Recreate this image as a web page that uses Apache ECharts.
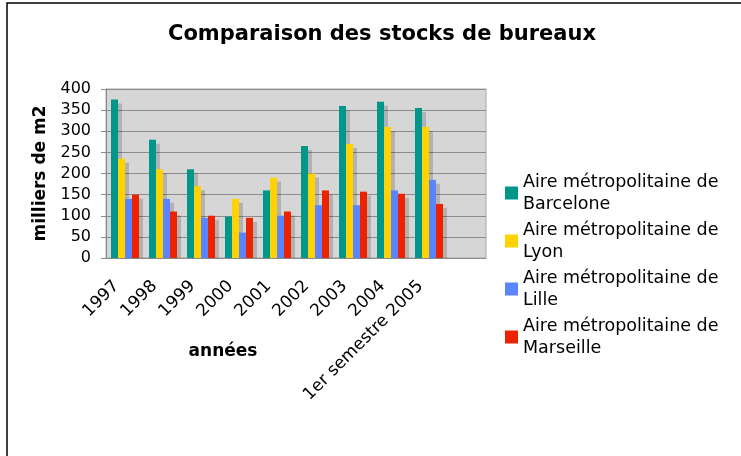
<!DOCTYPE html>
<html>
<head>
<meta charset="utf-8">
<script src="https://cdn.jsdelivr.net/npm/echarts@6/dist/echarts.min.js"></script>
<style>
  html, body { margin: 0; padding: 0; background: #fff; }
  #chart { width: 741px; height: 456px; }
</style>
</head>
<body>
<div id="chart"></div>
<script>
  // années (le dernier créneau reste vide)
  const categories = ['1997', '1998', '1999', '2000', '2001', '2002', '2003', '2004', '1er semestre 2005', ''];
  const barcelone = [375, 280, 210, 98, 160, 265, 360, 370, 355];
  const lyon      = [235, 210, 170, 140, 190, 200, 270, 310, 310];
  const lille     = [140, 140, 95, 60, 100, 125, 125, 160, 185];
  const marseille = [150, 110, 100, 95, 110, 160, 157, 152, 128];
  const yTicks = [0, 50, 100, 150, 200, 250, 300, 350, 400];

  const names = [
    'Aire métropolitaine de\nBarcelone',
    'Aire métropolitaine de\nLyon',
    'Aire métropolitaine de\nLille',
    'Aire métropolitaine de\nMarseille'
  ];
  const colors = ['#00968a', '#ffd200', '#5a85ff', '#ed2300'];
  const font = 'DejaVu Sans';

  let chart = echarts.init(document.getElementById('chart'));

  function bar(name, data) {
    return {
      name: name,
      type: 'bar',
      barWidth: 7,
      barGap: '0%',
      data: data,
      itemStyle: {
        shadowColor: 'rgba(0,0,0,0.17)',
        shadowOffsetX: 4,
        shadowOffsetY: 4,
        shadowBlur: 0
      }
    };
  }

  const option = {
    animation: false,
    color: colors,
    textStyle: { fontFamily: font },
    title: {
      text: 'Comparaison des stocks de bureaux',
      left: 163,
      top: 19,
      textStyle: { fontFamily: font, fontWeight: 'bold', fontSize: 21, color: '#000' }
    },
    legend: {
      orient: 'vertical',
      left: 500,
      top: 155,
      itemWidth: 13,
      itemHeight: 13,
      itemGap: -18,
      icon: 'rect',
      data: names,
      textStyle: {
        fontFamily: font,
        fontSize: 17.5,
        color: '#000',
        lineHeight: 22,
        padding: [22, 0, 0, 0]
      }
    },
    grid: {
      left: 106,
      top: 89,
      right: 255,
      bottom: 198,
      show: true,
      backgroundColor: '#d6d6d6',
      borderColor: '#a8a8a8',
      borderWidth: 1
    },
    xAxis: {
      type: 'category',
      data: categories,
      zlevel: 1,
      name: 'années',
      nameLocation: 'middle',
      nameGap: 85,
      nameMoveOverlap: false,
      nameTextStyle: {
        fontFamily: font, fontWeight: 'bold', fontSize: 17, color: '#000',
        padding: [0, 146, 0, 0]
      },
      axisLine: { lineStyle: { color: '#8a8a8a' } },
      axisTick: { length: 5, lineStyle: { color: '#8a8a8a' } },
      axisLabel: {
        rotate: 45,
        interval: 0,
        margin: 17,
        fontSize: 17,
        color: '#000',
        padding: [0, 12, 0, 0]
      }
    },
    yAxis: {
      type: 'value',
      min: yTicks[0],
      max: yTicks[yTicks.length - 1],
      interval: yTicks[1] - yTicks[0],
      name: 'milliers de m2',
      nameLocation: 'middle',
      nameGap: 56,
      nameRotate: 90,
      nameTextStyle: { fontFamily: font, fontWeight: 'bold', fontSize: 17, color: '#000' },
      axisLine: { show: true, lineStyle: { color: '#8a8a8a' } },
      axisTick: { show: true, length: 5, lineStyle: { color: '#8a8a8a' } },
      axisLabel: { fontSize: 16, color: '#000', margin: 15 },
      splitLine: { lineStyle: { color: '#8c8c8c' } }
    },
    series: [
      bar(names[0], barcelone),
      bar(names[1], lyon),
      bar(names[2], lille),
      bar(names[3], marseille)
    ],
    graphic: [{
      // masque l'ombre des barres sous l'axe
      type: 'rect',
      z: 5,
      shape: { x: 106, y: 258.5, width: 385, height: 6 },
      style: { fill: '#fff' },
      silent: true
    }, {
      type: 'rect',
      shape: { x: 7, y: 3, width: 900, height: 600 },
      style: { fill: 'none', stroke: '#000', lineWidth: 1.5 },
      silent: true
    }]
  };

  chart.setOption(option);
  window.addEventListener('resize', function () {
    chart.resize();
  });
</script>
</body>
</html>
